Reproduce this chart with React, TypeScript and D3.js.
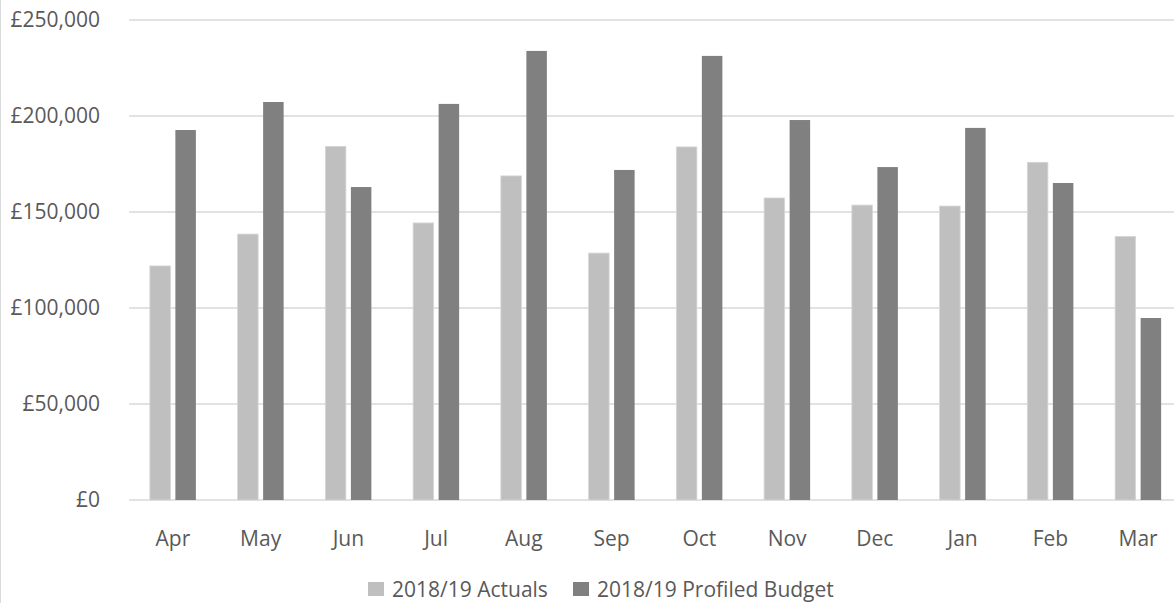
import React, { useEffect, useRef } from 'react';
import * as d3 from 'd3';

const months = ['Apr', 'May', 'Jun', 'Jul', 'Aug', 'Sep', 'Oct', 'Nov', 'Dec', 'Jan', 'Feb', 'Mar'];
const actuals = [121900, 138500, 184200, 144300, 168800, 128600, 183900, 157300, 153600, 153100, 175900, 137300];
const budget = [192700, 207300, 163000, 206300, 233900, 171900, 231300, 197900, 173400, 193800, 165100, 94800];
const yTicks = [0, 50000, 100000, 150000, 200000, 250000];
const seriesNames = ['2018/19 Actuals', '2018/19 Profiled Budget'];
const seriesColors = ['#bfbfbf', '#808080'];

const App: React.FC = () => {
  const svgRef = useRef<SVGSVGElement>(null);

  useEffect(() => {
    document.body.style.margin = '0';
    const width = 1174;
    const height = 603;
    const left = 129;
    const right = 1182;
    const top = 20;
    const bottom = 500;
    const font = "'Open Sans', sans-serif";
    const fontSize = 21;
    const textColor = '#595959';

    const svg = d3.select(svgRef.current).attr('width', width).attr('height', height);
    svg.selectAll('*').remove();

    // borda do gráfico
    svg.append('rect')
      .attr('x', 0.5).attr('y', -1).attr('width', width + 2).attr('height', height + 2)
      .attr('fill', 'white').attr('stroke', '#d9d9d9');

    const x = d3.scaleBand<string>().domain(months).range([left, right]);
    const y = d3.scaleLinear().domain([0, 250000]).range([bottom, top]);
    const barW = 20.5;
    const gap = 5;

    // linhas de grade
    svg.append('g').selectAll('line').data(yTicks).enter().append('line')
      .attr('x1', left).attr('x2', width)
      .attr('y1', (d) => y(d)).attr('y2', (d) => y(d))
      .attr('stroke', '#d9d9d9').attr('stroke-width', 1.5);

    svg.append('g').selectAll('text').data(yTicks).enter().append('text')
      .attr('x', 100).attr('y', (d) => y(d))
      .attr('dy', '0.35em')
      .attr('text-anchor', 'end')
      .attr('font-family', font).attr('font-size', fontSize).attr('fill', textColor)
      .text((d) => '£' + d3.format(',')(d));

    const series = [actuals, budget];
    series.forEach((vals, i) => {
      svg.append('g').selectAll('rect').data(vals).enter().append('rect')
        .attr('x', (_d, j) => {
          const c = (x(months[j]) as number) + x.bandwidth() / 2;
          return i === 0 ? c - gap / 2 - barW : c + gap / 2;
        })
        .attr('y', (d) => y(d))
        .attr('width', barW)
        .attr('height', (d) => bottom - y(d))
        .attr('fill', seriesColors[i])
        .attr('stroke', i === 0 ? '#d6d6d6' : 'none')
        .attr('stroke-width', 0.8);
    });

    svg.append('g').selectAll('text').data(months).enter().append('text')
      .attr('x', (d) => (x(d) as number) + x.bandwidth() / 2)
      .attr('y', 546)
      .attr('text-anchor', 'middle')
      .attr('font-family', font).attr('font-size', fontSize).attr('fill', textColor)
      .text((d) => d);

    // legenda
    const legendX = [368, 573];
    seriesNames.forEach((name, i) => {
      svg.append('rect')
        .attr('x', legendX[i]).attr('y', 582).attr('width', 16).attr('height', 14)
        .attr('fill', seriesColors[i]);
      svg.append('text')
        .attr('x', legendX[i] + 24).attr('y', 597)
        .attr('font-family', font).attr('font-size', fontSize).attr('fill', textColor)
        .text(name);
    });
  }, []);

  return <svg ref={svgRef} style={{ display: 'block' }}></svg>;
};

export default App;
